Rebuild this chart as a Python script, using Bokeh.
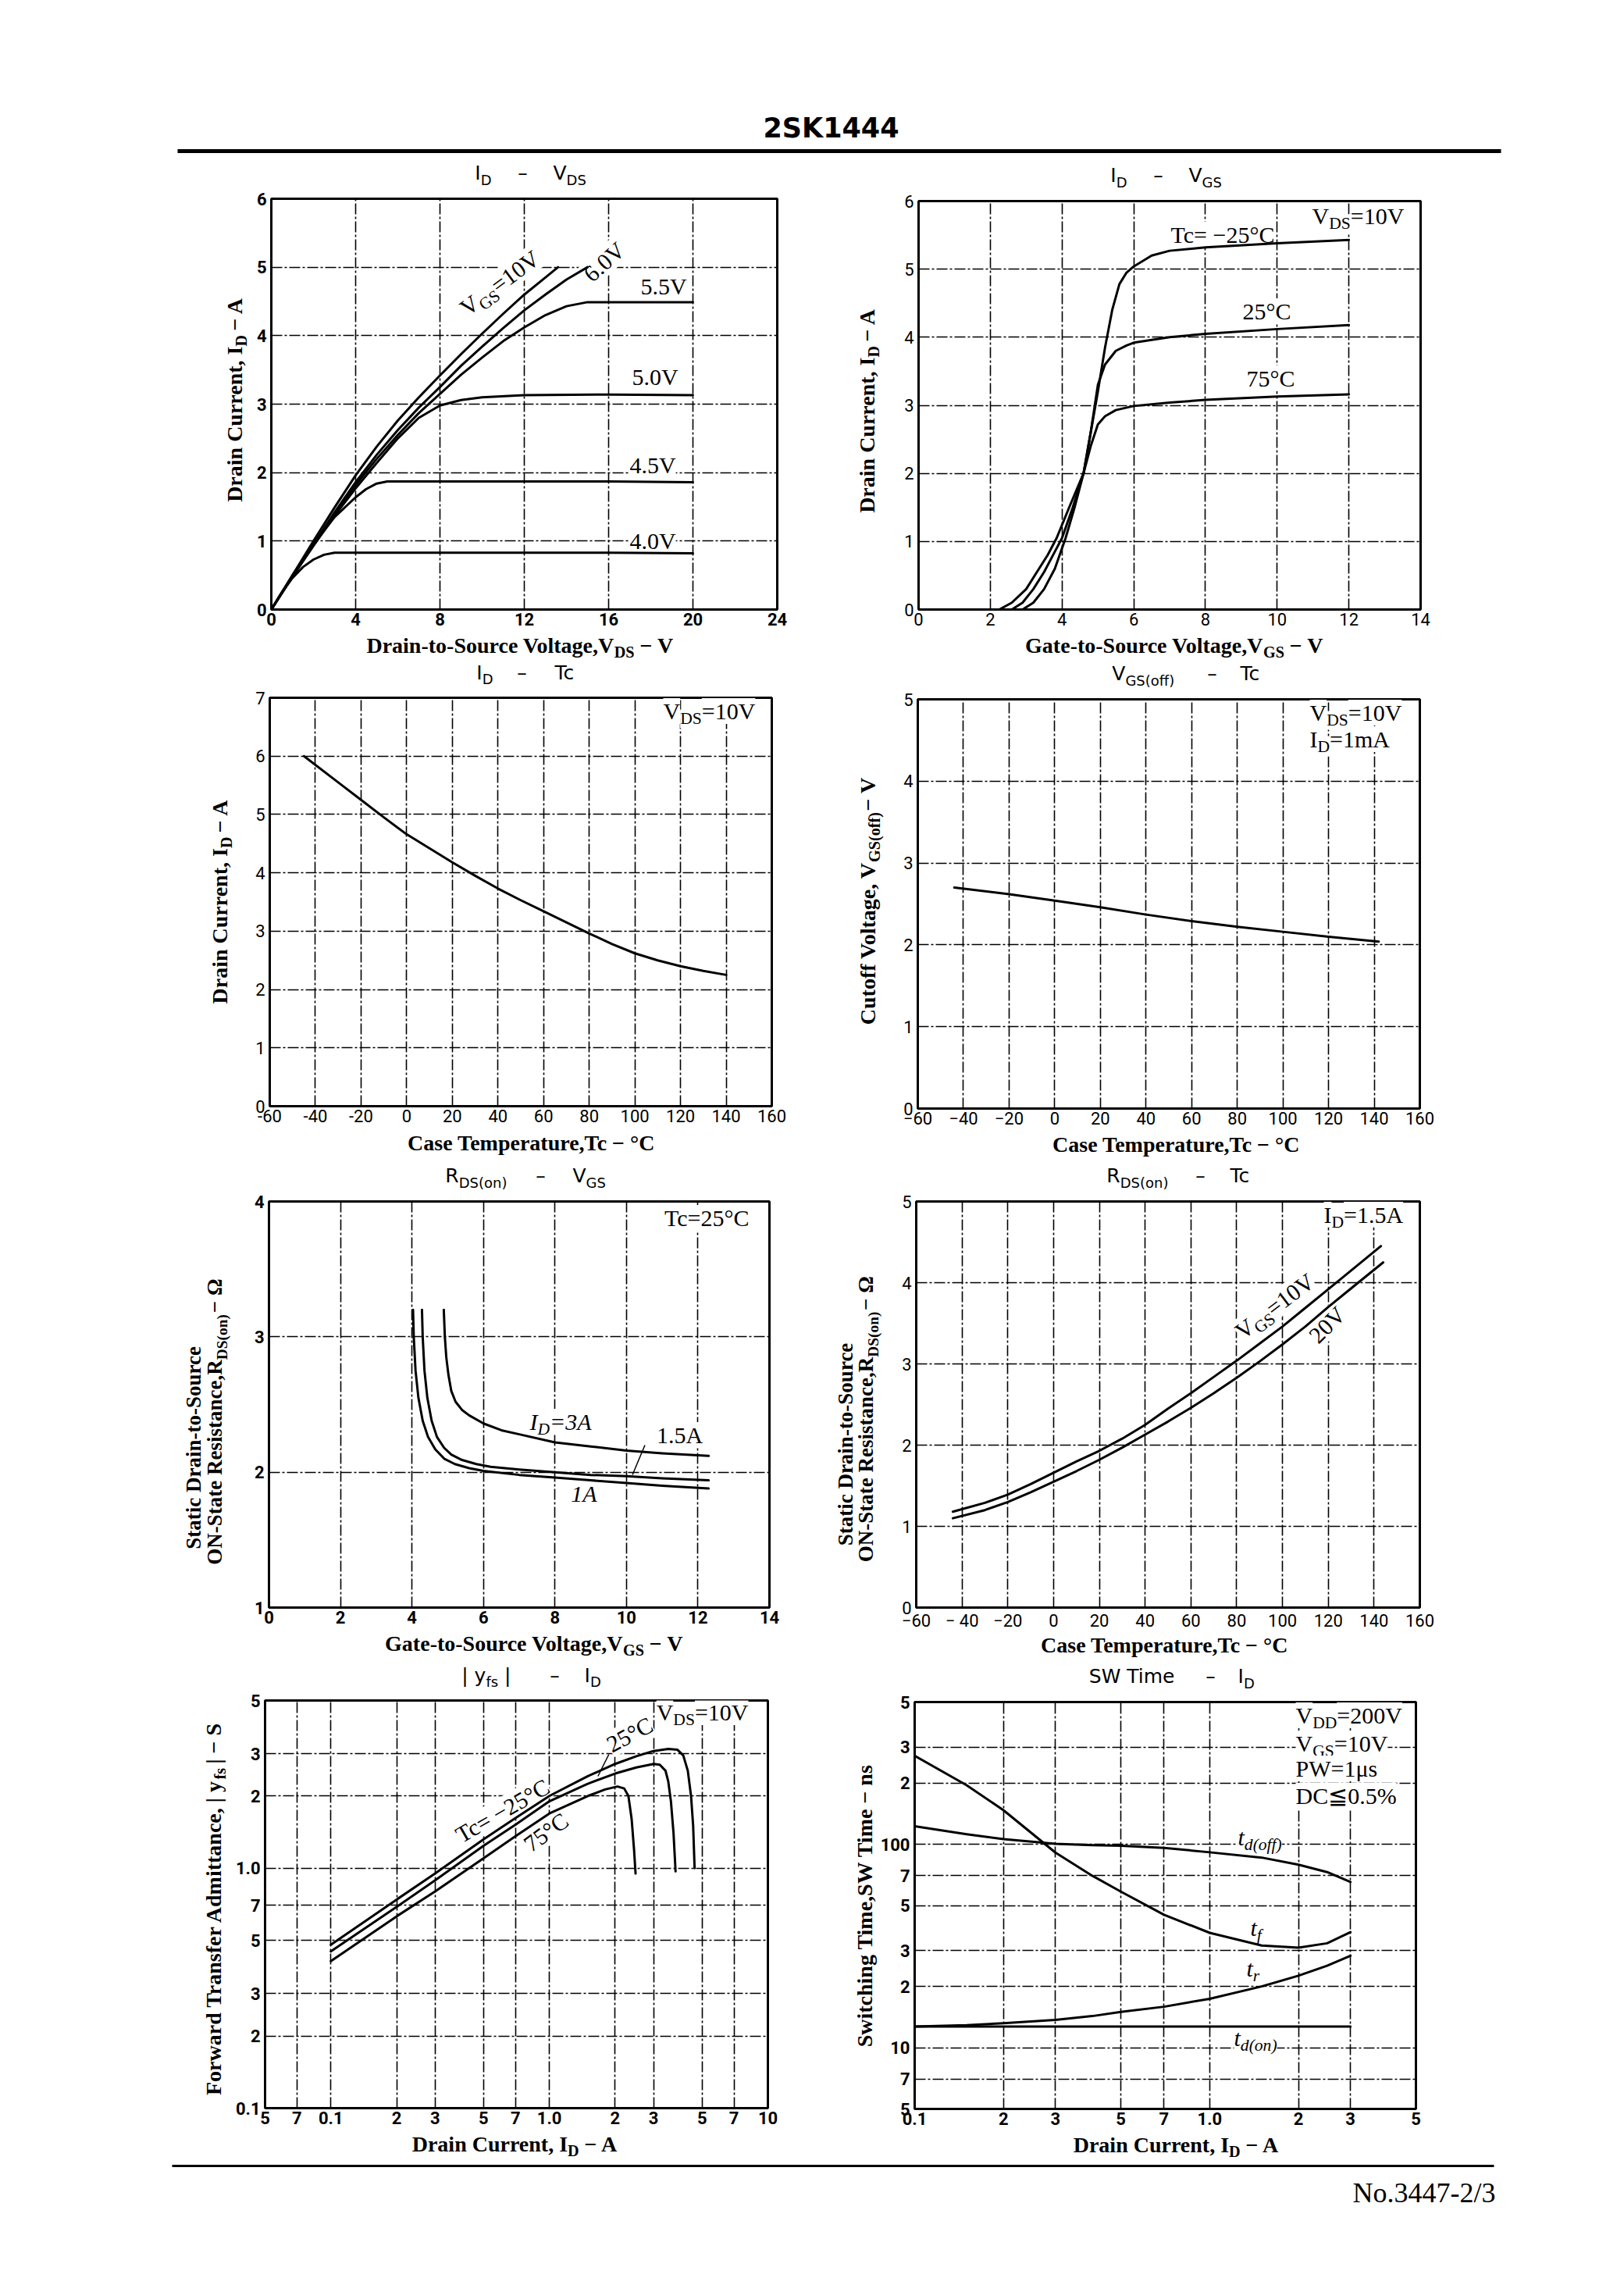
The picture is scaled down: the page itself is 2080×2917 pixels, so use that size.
import math
import re
from bokeh.plotting import figure
from bokeh.models import Range1d, FixedTicker, Label
from bokeh.layouts import column, row
from bokeh.embed import file_html
from bokeh.resources import INLINE

# ======================= DATA =======================
# Panel 1 : I_D - V_DS
p1_x_ticks = [0, 4, 8, 12, 16, 20, 24]
p1_x_labels = ["0", "4", "8", "12", "16", "20", "24"]
p1_y_ticks = [0, 1, 2, 3, 4, 5, 6]
p1_y_labels = ["0", "1", "2", "3", "4", "5", "6"]
p1_vds_10v = [0, 1, 2, 3, 4, 5, 6, 7, 8, 9, 10, 11, 12, 13, 13.6]
p1_id_10v = [0, 0.5, 1.0, 1.49, 1.96, 2.38, 2.76, 3.1, 3.42, 3.73, 4.03, 4.32, 4.6, 4.85, 5.0]
p1_vds_6v = [0, 1, 2, 3, 4, 5, 6, 7, 8, 9, 10, 11, 12, 13, 14, 15]
p1_id_6v = [0, 0.48, 0.95, 1.42, 1.86, 2.26, 2.62, 2.95, 3.25, 3.56, 3.84, 4.11, 4.37, 4.6, 4.82, 5.0]
p1_vds_55v = [0, 1, 2, 3, 4, 5, 6, 7, 8, 9, 10, 11, 12, 13, 14, 15, 20]
p1_id_55v = [0, 0.48, 0.94, 1.4, 1.82, 2.2, 2.55, 2.87, 3.15, 3.43, 3.68, 3.92, 4.12, 4.3, 4.43, 4.49, 4.49]
p1_vds_5v = [0, 1, 2, 3, 4, 5, 6, 7, 8, 9, 10, 12, 16, 20]
p1_id_5v = [0, 0.48, 0.93, 1.37, 1.77, 2.14, 2.5, 2.8, 2.98, 3.06, 3.1, 3.13, 3.14, 3.13]
p1_vds_45v = [0, 1, 2, 3, 4, 4.5, 5, 5.5, 8, 12, 16, 20]
p1_id_45v = [0, 0.5, 0.95, 1.35, 1.64, 1.76, 1.84, 1.87, 1.87, 1.87, 1.87, 1.86]
p1_vds_40v = [0, 0.5, 1, 1.5, 2, 2.5, 3, 4, 8, 12, 16, 20]
p1_id_40v = [0, 0.25, 0.46, 0.62, 0.73, 0.8, 0.83, 0.83, 0.83, 0.83, 0.83, 0.82]

# Panel 2 : I_D - V_GS
p2_x_ticks = [0, 2, 4, 6, 8, 10, 12, 14]
p2_x_labels = ["0", "2", "4", "6", "8", "10", "12", "14"]
p2_y_ticks = [0, 1, 2, 3, 4, 5, 6]
p2_y_labels = ["0", "1", "2", "3", "4", "5", "6"]
p2_vgs_m25 = [2.0, 2.9, 3.2, 3.5, 3.8, 4.1, 4.35, 4.6, 4.8, 5.0, 5.2, 5.4, 5.6, 5.8, 6.0, 6.5, 7.0, 8.0, 10.0, 12.0]
p2_id_m25 = [0, 0, 0.1, 0.3, 0.6, 1.05, 1.5, 2.0, 2.6, 3.2, 3.85, 4.4, 4.78, 4.95, 5.04, 5.2, 5.27, 5.32, 5.38, 5.43]
p2_vgs_25 = [2.0, 2.6, 2.9, 3.2, 3.5, 3.8, 4.0, 4.3, 4.6, 4.8, 5.0, 5.2, 5.5, 5.8, 6.0, 7.0, 8.0, 10.0, 12.0]
p2_id_25 = [0, 0, 0.1, 0.3, 0.55, 0.85, 1.05, 1.5, 2.0, 2.6, 3.3, 3.6, 3.8, 3.88, 3.92, 4.0, 4.05, 4.12, 4.18]
p2_vgs_75 = [2.0, 2.25, 2.6, 3.0, 3.3, 3.6, 3.85, 4.2, 4.6, 4.8, 5.0, 5.2, 5.5, 6.0, 7.0, 8.0, 10.0, 12.0]
p2_id_75 = [0, 0, 0.1, 0.3, 0.55, 0.8, 1.05, 1.5, 2.0, 2.4, 2.72, 2.84, 2.93, 2.99, 3.04, 3.08, 3.13, 3.16]

# Panel 3 : I_D - Tc
p3_x_ticks = [-60, -40, -20, 0, 20, 40, 60, 80, 100, 120, 140, 160]
p3_x_labels = ["-60", "-40", "-20", "0", "20", "40", "60", "80", "100", "120", "140", "160"]
p3_y_ticks = [0, 1, 2, 3, 4, 5, 6, 7]
p3_y_labels = ["0", "1", "2", "3", "4", "5", "6", "7"]
p3_tc = [-45, -30, -20, -10, 0, 10, 20, 30, 40, 50, 60, 70, 80, 90, 100, 110, 120, 130, 140]
p3_id = [6.0, 5.55, 5.25, 4.95, 4.66, 4.42, 4.18, 3.95, 3.73, 3.53, 3.34, 3.15, 2.96, 2.78, 2.62, 2.5, 2.4, 2.32, 2.25]

# Panel 4 : V_GS(off) - Tc
p4_x_ticks = [-60, -40, -20, 0, 20, 40, 60, 80, 100, 120, 140, 160]
p4_x_labels = ["\u221260", "\u221240", "\u221220", "0", "20", "40", "60", "80", "100", "120", "140", "160"]
p4_y_ticks = [0, 1, 2, 3, 4, 5]
p4_y_labels = ["0", "1", "2", "3", "4", "5"]
p4_tc = [-44, -20, 0, 20, 40, 60, 80, 100, 120, 142]
p4_vgsoff = [2.7, 2.62, 2.54, 2.46, 2.37, 2.29, 2.22, 2.16, 2.1, 2.04]

# Panel 5 : R_DS(on) - V_GS
p5_x_ticks = [0, 2, 4, 6, 8, 10, 12, 14]
p5_x_labels = ["0", "2", "4", "6", "8", "10", "12", "14"]
p5_y_ticks = [1, 2, 3, 4]
p5_y_labels = ["1", "2", "3", "4"]
p5_vgs_1a = [4.03, 4.05, 4.1, 4.18, 4.3, 4.45, 4.65, 4.9, 5.2, 5.6, 6.0, 7.0, 8.0, 9.0, 10.0, 11.0, 12.3]
p5_r_1a = [3.2, 3.0, 2.75, 2.55, 2.38, 2.26, 2.17, 2.1, 2.06, 2.03, 2.01, 1.98, 1.96, 1.94, 1.92, 1.9, 1.88]
p5_vgs_15a = [4.28, 4.3, 4.35, 4.43, 4.55, 4.7, 4.9, 5.1, 5.4, 5.8, 6.2, 7.0, 8.0, 9.0, 10.0, 11.0, 12.3]
p5_r_15a = [3.2, 3.0, 2.75, 2.55, 2.38, 2.26, 2.18, 2.13, 2.09, 2.06, 2.04, 2.02, 2.0, 1.98, 1.97, 1.955, 1.94]
p5_vgs_3a = [4.89, 4.92, 4.96, 5.02, 5.1, 5.22, 5.4, 5.6, 6.0, 6.5, 7.0, 8.0, 9.0, 10.0, 11.0, 12.3]
p5_r_3a = [3.2, 3.0, 2.85, 2.72, 2.6, 2.52, 2.46, 2.42, 2.36, 2.31, 2.28, 2.22, 2.19, 2.16, 2.14, 2.12]

# Panel 6 : R_DS(on) - Tc
p6_x_ticks = [-60, -40, -20, 0, 20, 40, 60, 80, 100, 120, 140, 160]
p6_x_labels = ["\u221260", "\u2212 40", "\u221220", "0", "20", "40", "60", "80", "100", "120", "140", "160"]
p6_y_ticks = [0, 1, 2, 3, 4, 5]
p6_y_labels = ["0", "1", "2", "3", "4", "5"]
p6_tc_10v = [-44, -30, -20, -10, 0, 10, 20, 30, 40, 50, 60, 70, 80, 90, 100, 110, 120, 130, 143]
p6_r_10v = [1.18, 1.29, 1.39, 1.52, 1.66, 1.8, 1.93, 2.08, 2.25, 2.45, 2.64, 2.84, 3.04, 3.25, 3.46, 3.69, 3.92, 4.15, 4.45]
p6_tc_20v = [-44, -30, -20, -10, 0, 10, 20, 30, 40, 50, 60, 70, 80, 90, 100, 110, 120, 130, 144]
p6_r_20v = [1.1, 1.2, 1.3, 1.42, 1.55, 1.68, 1.82, 1.97, 2.13, 2.29, 2.46, 2.64, 2.83, 3.03, 3.24, 3.46, 3.7, 3.93, 4.25]

# Panel 7 : |yfs| - I_D   (log-log)
p7_x_ticks = [0.05, 0.07, 0.1, 0.2, 0.3, 0.5, 0.7, 1.0, 2, 3, 5, 7, 10]
p7_x_labels = ["5", "7", "0.1", "2", "3", "5", "7", "1.0", "2", "3", "5", "7", "10"]
p7_y_ticks = [0.1, 0.2, 0.3, 0.5, 0.7, 1.0, 2, 3, 5]
p7_y_labels = ["0.1", "2", "3", "5", "7", "1.0", "2", "3", "5"]
p7_id_m25 = [0.1, 0.2, 0.3, 0.5, 0.7, 1.0, 1.5, 2.0, 2.5, 3.0, 3.5, 3.85, 4.1, 4.3, 4.45, 4.55, 4.62]
p7_y_m25 = [0.48, 0.74, 0.95, 1.32, 1.62, 2.0, 2.42, 2.72, 2.93, 3.08, 3.14, 3.12, 2.95, 2.55, 2.0, 1.5, 1.0]
p7_id_25 = [0.1, 0.2, 0.3, 0.5, 0.7, 1.0, 1.5, 2.0, 2.5, 3.0, 3.2, 3.4, 3.5, 3.6, 3.7, 3.78]
p7_y_25 = [0.45, 0.69, 0.89, 1.24, 1.52, 1.9, 2.25, 2.48, 2.63, 2.72, 2.7, 2.55, 2.3, 1.9, 1.4, 0.97]
p7_id_75 = [0.1, 0.2, 0.3, 0.5, 0.7, 1.0, 1.5, 1.8, 2.05, 2.2, 2.3, 2.38, 2.44, 2.48]
p7_y_75 = [0.41, 0.63, 0.8, 1.1, 1.36, 1.69, 2.0, 2.13, 2.19, 2.15, 2.0, 1.6, 1.2, 0.95]

# Panel 8 : SW Time - I_D   (log-log)
p8_x_ticks = [0.1, 0.2, 0.3, 0.5, 0.7, 1.0, 2, 3, 5]
p8_x_labels = ["0.1", "2", "3", "5", "7", "1.0", "2", "3", "5"]
p8_y_ticks = [5, 7, 10, 20, 30, 50, 70, 100, 200, 300, 500]
p8_y_labels = ["5", "7", "10", "2", "3", "5", "7", "100", "2", "3", "5"]
p8_id = [0.1, 0.15, 0.2, 0.3, 0.4, 0.5, 0.7, 1.0, 1.5, 2.0, 2.5, 3.0]
p8_tr = [12.7, 12.9, 13.2, 13.7, 14.3, 15.0, 15.9, 17.4, 20.0, 22.6, 25.3, 28.3]
p8_tf = [272, 195, 147, 91, 70, 58.5, 45, 36.7, 31.8, 31.0, 32.6, 37.0]
p8_tdoff = [122.6, 112, 106, 100.6, 99, 98.3, 96, 91.3, 86, 79.4, 73, 65.3]
p8_id_tdon = [0.1, 3.0]
p8_tdon = [12.7, 12.7]

# ======================= LAYOUT (page pixels) =======================
PAGE_X0, COL_SPLIT, PAGE_X1 = 0, 1060, 2072
ROW_BOUNDS = [198, 846, 1490, 2130, 2768]
FOOT_BOT = 2901
BT, BB = 13, 30   # plot-figure borders above / below the frame

FRAMES = {
    "p1": (347, 254, 995, 780),
    "p2": (1176, 257, 1819, 780),
    "p3": (345, 893, 988, 1416),
    "p4": (1175, 895, 1818, 1419),
    "p5": (342, 1538, 985, 2058),
    "p6": (1173, 1538, 1818, 2060),
    "p7": (338, 2177, 983, 2699),
    "p8": (1171, 2179, 1813, 2700),
}
# column, row, right edge of the y-label strip
CELLS = {
    "p1": (0, 0, 322), "p2": (1, 0, 1140),
    "p3": (0, 1, 322), "p4": (1, 1, 1140),
    "p5": (0, 2, 322), "p6": (1, 2, 1140),
    "p7": (0, 3, 298), "p8": (1, 3, 1124),
}

# ---------------- text metrics (approx., per 1000 em) ----------------
TR = {' ': 250, '!': 333, '%': 833, '(': 333, ')': 333, ',': 250, '-': 333, '.': 250, '/': 278, '=': 564,
      '|': 200, '°': 400, 'μ': 500, '≦': 564, '−': 564, 'Ω': 768,
      'A': 722, 'C': 667, 'D': 722, 'G': 722, 'I': 333, 'N': 722, 'O': 722, 'P': 556, 'R': 667, 'S': 556,
      'T': 611, 'V': 722, 'W': 944, 'a': 444, 'c': 444, 'd': 500, 'e': 444, 'f': 333, 'm': 778, 'n': 500,
      'o': 500, 'r': 333, 's': 389, 't': 278, 'u': 500, 'y': 500}
TB = {' ': 250, '%': 1000, '(': 333, ')': 333, ',': 250, '-': 333, '.': 250, '/': 278, '=': 570, '|': 220,
      '°': 400, '−': 570, 'Ω': 768,
      'A': 722, 'C': 722, 'D': 722, 'F': 611, 'G': 778, 'I': 389, 'N': 722, 'O': 778, 'R': 722, 'S': 556,
      'T': 667, 'V': 722, 'W': 1000, 'a': 500, 'b': 556, 'c': 444, 'd': 556, 'e': 444, 'f': 333, 'g': 500,
      'h': 556, 'i': 278, 'l': 278, 'm': 833, 'n': 556, 'o': 500, 'p': 556, 'r': 444, 's': 389, 't': 333,
      'u': 556, 'v': 500, 'w': 722, 'y': 500}
TI = {' ': 250, '(': 333, ')': 333, '.': 250, '=': 675, 'A': 611, 'D': 722, 'I': 333, 'd': 500, 'f': 278,
      'n': 500, 'o': 500, 'r': 389, 't': 278}
DV = {' ': 318, '(': 390, ')': 390, '|': 337, '–': 500, 'D': 770, 'G': 775, 'I': 295, 'R': 695, 'S': 635,
      'T': 611, 'V': 684, 'W': 989, 'c': 550, 'e': 615, 'f': 352, 'i': 278, 'm': 974, 'n': 634, 'o': 612,
      's': 521, 'y': 592}
for _d in (TR, TB, TI):
    for _c in "0123456789":
        _d[_c] = 500
for _c in "0123456789":
    DV[_c] = 636

FONTS = {
    "serif": ("Liberation Serif", "normal", TR, 0.3375),
    "serif_b": ("Liberation Serif", "bold", TB, 0.3375),
    "serif_i": ("Liberation Serif", "italic", TI, 0.3375),
    "sans": ("DejaVu Sans", "normal", DV, 0.346),
    "sans_b": ("DejaVu Sans", "bold", DV, 0.346),
}
SUB = 0.72


def tw(text, table, size):
    return sum(table.get(c, 520) for c in text) * size / 1000.0


def parse(s):
    out, pos = [], 0
    for m in re.finditer(r'_\{([^}]*)\}', s):
        if m.start() > pos:
            out.append((s[pos:m.start()], False))
        out.append((m.group(1), True))
        pos = m.end()
    if pos < len(s):
        out.append((s[pos:], False))
    return out


def put(p, conv, px, py, txt, sz, fkey, align, a, inside):
    """One text label whose baseline passes through page point (px, py)."""
    font, style, _, fix = FONTS[fkey]
    nx, ny = math.sin(a), math.cos(a)
    c = fix * sz           # labels are anchored on their box centre: move the anchor up
    X, Y = conv(px - c * nx, py - c * ny)
    kw = dict(x=X, y=Y, text=txt, angle=a, text_font=font, text_font_style=style,
              text_font_size=f"{sz:.1f}px", text_color="black",
              text_align=align, text_baseline="alphabetic")
    if inside:
        kw.update(level="underlay", background_fill_color="white")
    p.add_layout(Label(**kw))


def rich(p, conv, x, y, s, size, fkey="serif", align="left", angle=0.0, inside=False):
    table = FONTS[fkey][2]
    a = math.radians(angle)
    segs = parse(s)
    if not any(sub for _, sub in segs):
        put(p, conv, x, y, s.strip(" "), size, fkey, align, a, inside)
        return
    sizes = [size * SUB if sub else size for _, sub in segs]
    ws = [tw(t, table, sz) for (t, _), sz in zip(segs, sizes)]
    W = sum(ws)
    dx, dy = math.cos(a), -math.sin(a)
    nx, ny = math.sin(a), math.cos(a)
    off0 = {"left": 0.0, "center": -W / 2.0, "right": -W}[align]
    pivot = next(i for i, (_, sub) in enumerate(segs) if sub)
    P = off0 + sum(ws[:pivot])

    def pos(o, sub):
        sh = size * 0.24 if sub else 0.0
        return x + o * dx + sh * nx, y + o * dy + sh * ny

    end = P
    for i in range(pivot - 1, -1, -1):
        t, sub = segs[i]
        trail = len(t) - len(t.rstrip(" "))
        txt = t.strip(" ")
        if txt:
            px, py = pos(end - tw(" " * trail, table, sizes[i]), sub)
            put(p, conv, px, py, txt, sizes[i], fkey, "right", a, inside)
        end -= ws[i]
    o = P
    for i in range(pivot, len(segs)):
        t, sub = segs[i]
        lead = len(t) - len(t.lstrip(" "))
        txt = t.strip(" ")
        if txt:
            px, py = pos(o + tw(" " * lead, table, sizes[i]), sub)
            put(p, conv, px, py, txt, sizes[i], fkey, "left", a, inside)
        o += ws[i]


def make_conv(frame, xr, yr, xlog, ylog):
    L, T, R, B = frame

    def tr(v0, v1, t, lg):
        if lg:
            a0, a1 = math.log10(v0), math.log10(v1)
            return 10 ** (a0 + t * (a1 - a0))
        return v0 + t * (v1 - v0)

    def f(px, py):
        return (tr(xr[0], xr[1], (px - L) / (R - L), xlog),
                tr(yr[0], yr[1], (B - py) / (B - T), ylog))
    return f


def ident(px, py):
    return px, py


def text_fig(x0, y0, x1, y1):
    f = figure(width=x1 - x0, height=y1 - y0,
               x_range=Range1d(x0, x1), y_range=Range1d(y1, y0),
               output_backend="svg", toolbar_location=None, title=None,
               x_axis_location=None, y_axis_location=None,
               min_border_left=0, min_border_right=0, min_border_top=0, min_border_bottom=0)
    f.outline_line_color = None
    f.background_fill_color = "white"
    f.border_fill_color = "white"
    f.grid.visible = False
    return f


def make_panel(key, xr, yr, xt, xl, yt, yl, xlog=False, ylog=False, bold=False):
    L, T, R, B = FRAMES[key]
    col, ri, ylx = CELLS[key]
    cx0 = PAGE_X0 if col == 0 else COL_SPLIT
    cx1 = COL_SPLIT if col == 0 else PAGE_X1
    top, bot = ROW_BOUNDS[ri], ROW_BOUNDS[ri + 1]
    mid_top, mid_bot = T - BT, B + BB
    tfig = text_fig(cx0, top, cx1, mid_top)
    yfig = text_fig(cx0, mid_top, ylx, mid_bot)
    xfig = text_fig(cx0, mid_bot, cx1, bot)
    p = figure(width=cx1 - ylx, height=mid_bot - mid_top,
               x_range=Range1d(*xr), y_range=Range1d(*yr),
               x_axis_type="log" if xlog else "linear",
               y_axis_type="log" if ylog else "linear",
               output_backend="svg", toolbar_location=None, title=None,
               min_border_left=L - ylx, min_border_right=cx1 - R,
               min_border_top=BT, min_border_bottom=BB)
    p.background_fill_color = "white"
    p.border_fill_color = "white"
    p.outline_line_color = "black"
    p.outline_line_width = 3
    xtk = FixedTicker(ticks=xt)
    ytk = FixedTicker(ticks=yt)
    p.xaxis.ticker = xtk
    p.yaxis.ticker = ytk
    p.xgrid.ticker = xtk
    p.ygrid.ticker = ytk
    p.xaxis.major_label_overrides = {t: l for t, l in zip(xt, xl)}
    p.yaxis.major_label_overrides = {t: l for t, l in zip(yt, yl)}
    for ax in (p.xaxis, p.yaxis):
        ax.axis_line_color = None
        ax.major_tick_line_color = None
        ax.minor_tick_line_color = None
        ax.major_tick_out = 0
        ax.major_tick_in = 0
        ax.minor_tick_out = 0
        ax.minor_tick_in = 0
        ax.major_label_text_font = "Roboto"
        ax.major_label_text_font_size = "22px"
        ax.major_label_text_font_style = "bold" if bold else "normal"
        ax.major_label_text_color = "black"
    p.xaxis.major_label_standoff = 4
    p.yaxis.major_label_standoff = 6
    for g in (p.xgrid, p.ygrid):
        g.grid_line_color = "black"
        g.grid_line_width = 1.6
        g.grid_line_dash = "14 3 3 3"
        g.minor_grid_line_color = None
    conv = make_conv(FRAMES[key], xr, yr, xlog, ylog)
    cell = column(tfig, row(yfig, p), xfig)
    return dict(p=p, c=conv, t=tfig, y=yfig, x=xfig, cell=cell)


def curve(p, x, y):
    p.line(x, y, line_color="black", line_width=3, line_join="round", line_cap="round")


TS = 25   # panel title size
AX = 28   # axis label size
ANN = 30  # annotation size


def title(P, left, right, dash_x, left_end, right_start, base):
    f = P["t"]
    rich(f, ident, left_end, base, left, TS, "sans", align="right")
    rich(f, ident, dash_x, base, "–", TS, "sans", align="center")
    rich(f, ident, right_start, base, right, TS, "sans", align="left")


# ---------------- Panel 1 ----------------
P1 = make_panel("p1", (0, 24), (0, 6), p1_x_ticks, p1_x_labels, p1_y_ticks, p1_y_labels, bold=True)
p1, c1 = P1["p"], P1["c"]
for xs, ys in [(p1_vds_10v, p1_id_10v), (p1_vds_6v, p1_id_6v), (p1_vds_55v, p1_id_55v),
               (p1_vds_5v, p1_id_5v), (p1_vds_45v, p1_id_45v), (p1_vds_40v, p1_id_40v)]:
    curve(p1, xs, ys)
title(P1, "I_{D}", "V_{DS}", 669, 629, 708, 230)
rich(P1["y"], ident, 309, 513, "Drain Current, I_{D} − A", AX, "serif_b", "center", 90)
rich(P1["x"], ident, 664, 835, "Drain-to-Source Voltage,V_{DS} − V", AX, "serif_b", "center")
rich(p1, c1, 598, 405, "V_{GS}=10V", ANN, "serif", "left", 36.5, inside=True)
rich(p1, c1, 758, 362, "6.0V", ANN, "serif", "left", 42, inside=True)
rich(p1, c1, 820, 376, "5.5V", ANN, "serif", inside=True)
rich(p1, c1, 809, 492, "5.0V", ANN, "serif", inside=True)
rich(p1, c1, 806, 605, "4.5V", ANN, "serif", inside=True)
rich(p1, c1, 806, 702, "4.0V", ANN, "serif", inside=True)

# ---------------- Panel 2 ----------------
P2 = make_panel("p2", (0, 14), (0, 6), p2_x_ticks, p2_x_labels, p2_y_ticks, p2_y_labels)
p2, c2 = P2["p"], P2["c"]
for xs, ys in [(p2_vgs_m25, p2_id_m25), (p2_vgs_25, p2_id_25), (p2_vgs_75, p2_id_75)]:
    curve(p2, xs, ys)
title(P2, "I_{D}", "V_{GS}", 1483, 1443, 1522, 233)
rich(P2["y"], ident, 1119, 528, "Drain Current, I_{D} − A", AX, "serif_b", "center", 90)
rich(P2["x"], ident, 1502, 835, "Gate-to-Source Voltage,V_{GS} − V", AX, "serif_b", "center")
rich(p2, c2, 1680, 286, "V_{DS}=10V", ANN, "serif", inside=True)
rich(p2, c2, 1499, 310, "Tc= −25°C", ANN, "serif", inside=True)
rich(p2, c2, 1591, 408, "25°C", ANN, "serif", inside=True)
rich(p2, c2, 1596, 494, "75°C", ANN, "serif", inside=True)

# ---------------- Panel 3 ----------------
P3 = make_panel("p3", (-60, 160), (0, 7), p3_x_ticks, p3_x_labels, p3_y_ticks, p3_y_labels)
p3, c3 = P3["p"], P3["c"]
curve(p3, p3_tc, p3_id)
title(P3, "I_{D}", "Tc", 668, 631, 710, 869.5)
rich(P3["y"], ident, 290, 1156, "Drain Current, I_{D} − A", AX, "serif_b", "center", 90)
rich(P3["x"], ident, 680, 1472, "Case Temperature,Tc − °C", AX, "serif_b", "center")
rich(p3, c3, 849, 920, "V_{DS}=10V", ANN, "serif", inside=True)

# ---------------- Panel 4 ----------------
P4 = make_panel("p4", (-60, 160), (0, 5), p4_x_ticks, p4_x_labels, p4_y_ticks, p4_y_labels)
p4, c4 = P4["p"], P4["c"]
curve(p4, p4_tc, p4_vgsoff)
title(P4, "V_{GS(off)}", "Tc", 1552, 1504, 1588, 871)
rich(P4["y"], ident, 1120, 1156, "Cutoff Voltage, V_{GS(off)} − V", AX, "serif_b", "center", 90)
rich(P4["x"], ident, 1506, 1474, "Case Temperature,Tc − °C", AX, "serif_b", "center")
rich(p4, c4, 1677, 922, "V_{DS}=10V", ANN, "serif", inside=True)
rich(p4, c4, 1677, 956, "I_{D}=1mA", ANN, "serif", inside=True)

# ---------------- Panel 5 ----------------
P5 = make_panel("p5", (0, 14), (1, 4), p5_x_ticks, p5_x_labels, p5_y_ticks, p5_y_labels, bold=True)
p5, c5 = P5["p"], P5["c"]
for xs, ys in [(p5_vgs_1a, p5_r_1a), (p5_vgs_15a, p5_r_15a), (p5_vgs_3a, p5_r_3a)]:
    curve(p5, xs, ys)
title(P5, "R_{DS(on)}", "V_{GS}", 692, 649, 733, 1514)
rich(P5["y"], ident, 257, 2007, "Static Drain-to-Source", 27, "serif_b", "left", 90)
rich(P5["y"], ident, 284, 2007, "ON-State Resistance,R_{DS(on)} − Ω", 27, "serif_b", "left", 90)
rich(P5["x"], ident, 682, 2113, "Gate-to-Source Voltage,V_{GS} − V", AX, "serif_b", "center")
rich(p5, c5, 850, 1569, "Tc=25°C", ANN, "serif", inside=True)
rich(p5, c5, 677, 1830, "I_{D}=3A", ANN, "serif_i", inside=True)
rich(p5, c5, 840, 1847, "1.5A", ANN, "serif", inside=True)
rich(p5, c5, 730, 1922, "1A", ANN, "serif_i", inside=True)
_a = c5(825, 1850)
_b = c5(809, 1888)
p5.line([_a[0], _b[0]], [_a[1], _b[1]], line_color="black", line_width=1.5)

# ---------------- Panel 6 ----------------
P6 = make_panel("p6", (-60, 160), (0, 5), p6_x_ticks, p6_x_labels, p6_y_ticks, p6_y_labels)
p6, c6 = P6["p"], P6["c"]
curve(p6, p6_tc_10v, p6_r_10v)
curve(p6, p6_tc_20v, p6_r_20v)
title(P6, "R_{DS(on)}", "Tc", 1537, 1496, 1575, 1514)
rich(P6["y"], ident, 1092, 2004, "Static Drain-to-Source", 27, "serif_b", "left", 90)
rich(P6["y"], ident, 1118, 2004, "ON-State Resistance,R_{DS(on)} − Ω", 27, "serif_b", "left", 90)
rich(P6["x"], ident, 1491, 2115, "Case Temperature,Tc − °C", AX, "serif_b", "center")
rich(p6, c6, 1695, 1565, "I_{D}=1.5A", ANN, "serif", inside=True)
rich(p6, c6, 1591, 1716, "V_{GS}=10V", ANN, "serif", "left", 37, inside=True)
rich(p6, c6, 1688, 1722, "20V", ANN, "serif", "left", 45, inside=True)

# ---------------- Panel 7 ----------------
P7 = make_panel("p7", (0.05, 10), (0.1, 5), p7_x_ticks, p7_x_labels, p7_y_ticks, p7_y_labels,
                xlog=True, ylog=True, bold=True)
p7, c7 = P7["p"], P7["c"]
for xs, ys in [(p7_id_m25, p7_y_m25), (p7_id_25, p7_y_25), (p7_id_75, p7_y_75)]:
    curve(p7, xs, ys)
title(P7, "| y_{fs} |", "I_{D}", 710, 654, 748, 2153.5)
rich(P7["y"], ident, 282, 2440, "Forward Transfer Admittance, | y_{fs} | − S", AX, "serif_b", "center", 90)
rich(P7["x"], ident, 659, 2754, "Drain Current, I_{D} − A", AX, "serif_b", "center")
rich(p7, c7, 840, 2202, "V_{DS}=10V", ANN, "serif", inside=True)
rich(p7, c7, 590, 2360, "Tc= −25°C", ANN, "serif", "left", 30, inside=True)
rich(p7, c7, 783, 2244, "25°C", ANN, "serif", "left", 28, inside=True)
rich(p7, c7, 679, 2372, "75°C", ANN, "serif", "left", 36, inside=True)
_a = c7(779, 2246)
_b = c7(765, 2274)
p7.line([_a[0], _b[0]], [_a[1], _b[1]], line_color="black", line_width=1.5)

# ---------------- Panel 8 ----------------
P8 = make_panel("p8", (0.1, 5), (5, 500), p8_x_ticks, p8_x_labels, p8_y_ticks, p8_y_labels,
                xlog=True, ylog=True, bold=True)
p8, c8 = P8["p"], P8["c"]
curve(p8, p8_id, p8_tdoff)
curve(p8, p8_id, p8_tf)
curve(p8, p8_id, p8_tr)
curve(p8, p8_id_tdon, p8_tdon)
title(P8, "SW Time", "I_{D}", 1550, 1504, 1585, 2155)
rich(P8["y"], ident, 1116, 2448, "Switching Time,SW Time − ns", AX, "serif_b", "center", 90)
rich(P8["x"], ident, 1506, 2755, "Drain Current, I_{D} − A", AX, "serif_b", "center")
rich(p8, c8, 1659, 2206, "V_{DD}=200V", ANN, "serif", inside=True)
rich(p8, c8, 1659, 2242, "V_{GS}=10V", ANN, "serif", inside=True)
rich(p8, c8, 1659, 2274, "PW=1μs", ANN, "serif", inside=True)
rich(p8, c8, 1659, 2309, "DC≦0.5%", ANN, "serif", inside=True)
rich(p8, c8, 1585, 2362, "t_{d(off)}", ANN, "serif_i", inside=True)
rich(p8, c8, 1601, 2478, "t_{f}", ANN, "serif_i", inside=True)
rich(p8, c8, 1596, 2530, "t_{r}", ANN, "serif_i", inside=True)
rich(p8, c8, 1580, 2619, "t_{d(on)}", ANN, "serif_i", inside=True)

# ---------------- header / footer ----------------
header = text_fig(PAGE_X0, 0, PAGE_X1, ROW_BOUNDS[0])
header.segment(x0=[227], y0=[193], x1=[1922], y1=[193], line_color="black", line_width=5)
rich(header, ident, 1064, 176, "2SK1444", 35, "sans_b", "center")

footer = text_fig(PAGE_X0, ROW_BOUNDS[-1], PAGE_X1, FOOT_BOT)
footer.segment(x0=[220], y0=[2773], x1=[1913], y1=[2773], line_color="black", line_width=3)
rich(footer, ident, 1915, 2820, "No.3447-2/3", 36, "serif", "right")

layout = column(header,
                row(P1["cell"], P2["cell"]),
                row(P3["cell"], P4["cell"]),
                row(P5["cell"], P6["cell"]),
                row(P7["cell"], P8["cell"]),
                footer)

with open("out.html", "w") as fh:
    fh.write(file_html(layout, INLINE, title="2SK1444"))
